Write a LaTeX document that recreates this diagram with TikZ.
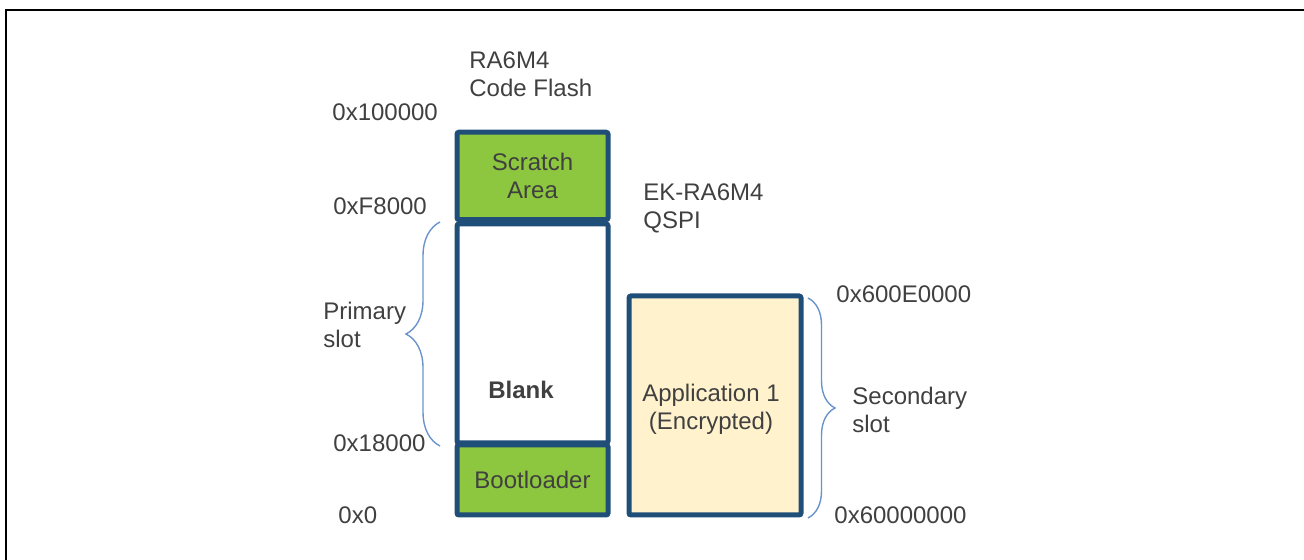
\documentclass[tikz,border=0pt]{standalone}
\usepackage{fontspec}
\setmainfont{Liberation Sans}
\usepackage{tikz}
\usepackage{xcolor}
\usetikzlibrary{decorations.pathreplacing}
\definecolor{memblue}{HTML}{1F4E79}
\definecolor{memgreen}{HTML}{8DC63F}
\definecolor{memyellow}{HTML}{FFF2CC}
\definecolor{bracecol}{HTML}{6A93CC}
\definecolor{txtgray}{HTML}{404040}
\tikzstyle{region} = [rectangle, rounded corners=1pt, line width=2.5pt, draw=memblue, inner sep=0pt, minimum width=75.5pt, align=center]
\tikzstyle{addr} = [anchor=west, inner sep=0pt]
\tikzstyle{caption} = [anchor=west, inner sep=0pt, align=left]
\tikzstyle{slotbrace} = [decorate, draw=bracecol, line width=0.7pt]

\begin{document}
\begin{tikzpicture}[x=0.5pt, y=0.5pt, font=\fontsize{12}{14}\selectfont, text=txtgray]
	\useasboundingbox (0,0) rectangle (1304,560);
	\draw [line width=1pt] (6,0) -- (6,550) -- (1304,550);

	% code flash
	\node(blank) at (532.5, 226.5) [region, fill=white, minimum height=109.5pt] {};
	\node(scratch) at (532.5, 384) [region, fill=memgreen, minimum height=43.75pt] {Scratch\\Area};
	\node(boot) at (532.5, 80) [region, fill=memgreen, minimum height=35pt] {Bootloader};
	\node(blanktxt) at (521, 170) {\textbf{Blank}};
	\node(flash) at (469, 486) [caption] {RA6M4\\Code Flash};

	% qspi
	\node(app) at (715, 154.5) [region, fill=memyellow, minimum width=86pt, minimum height=109.5pt] {};
	\node(apptxt) at (711, 151) [align=center] {Application 1\\(Encrypted)};
	\node(qspi) at (643, 351.5) [caption] {EK-RA6M4\\QSPI};

	\node(a1) at (332, 448) [addr] {0x100000};
	\node(a2) at (333, 354) [addr] {0xF8000};
	\node(a3) at (333, 117) [addr] {0x18000};
	\node(a4) at (338, 45) [addr] {0x0};
	\node(a5) at (836, 266) [addr] {0x600E0000};
	\node(a6) at (834, 45) [addr] {0x60000000};

	\coordinate(p1) at (440, 114);
	\coordinate(p2) at (440, 338);
	\coordinate(q1) at (808, 262);
	\coordinate(q2) at (808, 42);
	\draw [slotbrace, decoration={brace, amplitude=17pt}] (p1) -- (p2);
	\draw [slotbrace, decoration={brace, amplitude=13.5pt}] (q1) -- (q2);
	\node(prim) at (323, 235) [caption] {Primary\\slot};
	\node(sec) at (852, 150) [caption] {Secondary\\slot};
\end{tikzpicture}
\end{document}
